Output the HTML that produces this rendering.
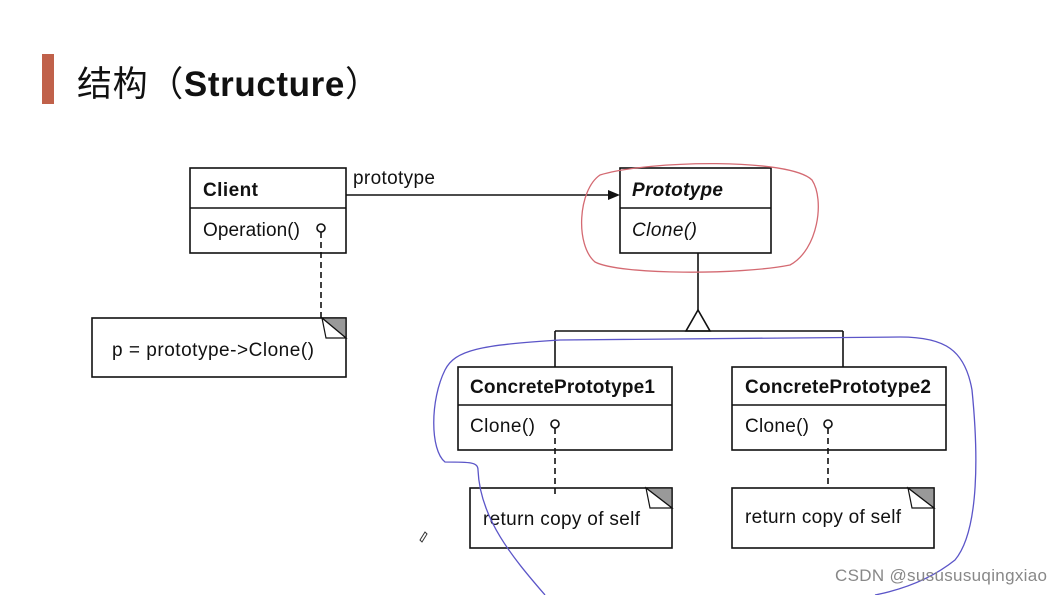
<!DOCTYPE html>
<html><head><meta charset="utf-8"><style>
html,body{margin:0;padding:0;background:#fff;width:1062px;height:595px;overflow:hidden}
svg{display:block}
</style></head><body>
<svg width="1062" height="595" xmlns="http://www.w3.org/2000/svg" font-family="Liberation Sans, Arial, sans-serif">
<rect x="42" y="54" width="12" height="50" fill="#c0614a"/>
<text x="77" y="96" font-size="35" fill="#111" font-family="Liberation Sans, Noto Sans CJK SC, sans-serif" textLength="303">结构（<tspan font-weight="bold">Structure</tspan>）</text>

<g stroke="#111" stroke-width="1.6" fill="none">
<rect x="190" y="168" width="156" height="85" fill="#fff"/>
<line x1="190" y1="208" x2="346" y2="208"/>
<rect x="620" y="168" width="151" height="85" fill="#fff"/>
<line x1="620" y1="208" x2="771" y2="208"/>
<line x1="346" y1="195" x2="608" y2="195"/>
<line x1="698" y1="253" x2="698" y2="310"/>
<polygon points="698,310 686,331 710,331" fill="#fff"/>
<line x1="555" y1="331" x2="843" y2="331"/>
<line x1="555" y1="331" x2="555" y2="367"/>
<line x1="843" y1="331" x2="843" y2="367"/>
<rect x="458" y="367" width="214" height="83" fill="#fff"/>
<line x1="458" y1="405" x2="672" y2="405"/>
<rect x="732" y="367" width="214" height="83" fill="#fff"/>
<line x1="732" y1="405" x2="946" y2="405"/>
<rect x="92" y="318" width="254" height="59" fill="#fff"/>
<rect x="470" y="488" width="202" height="60" fill="#fff"/>
<rect x="732" y="488" width="202" height="60" fill="#fff"/>
<g stroke-dasharray="6,4">
<line x1="321" y1="232" x2="321" y2="318"/>
<line x1="555" y1="428" x2="555" y2="495"/>
<line x1="828" y1="428" x2="828" y2="488"/>
</g>
<circle cx="321" cy="228" r="4" fill="#fff"/>
<circle cx="555" cy="424" r="4" fill="#fff"/>
<circle cx="828" cy="424" r="4" fill="#fff"/>
</g>
<polygon points="608,190 620,195 608,200" fill="#111"/>
<g fill="#999" stroke="#111" stroke-width="1.2">
<polygon points="322,318 346,318 346,338"/>
<polygon points="646,488 672,488 672,508"/>
<polygon points="908,488 934,488 934,508"/>
</g>
<g fill="#fff" stroke="#111" stroke-width="1.2">
<polygon points="322,318 346,338 326,338"/>
<polygon points="646,488 672,508 650,508"/>
<polygon points="908,488 934,508 912,508"/>
</g>

<g font-size="19" fill="#111">
<text x="203" y="196" font-weight="bold" textLength="55">Client</text>
<text x="203" y="236" textLength="97">Operation()</text>
<text x="353" y="184" textLength="82">prototype</text>
<text x="632" y="196" font-weight="bold" font-style="italic" textLength="91">Prototype</text>
<text x="632" y="236" font-style="italic" textLength="65">Clone()</text>
<text x="112" y="356" textLength="202">p = prototype-&gt;Clone()</text>
<text x="470" y="393" font-weight="bold" textLength="185">ConcretePrototype1</text>
<text x="470" y="432" textLength="65">Clone()</text>
<text x="745" y="393" font-weight="bold" textLength="186">ConcretePrototype2</text>
<text x="745" y="432" textLength="64">Clone()</text>
<text x="483" y="525" textLength="157">return copy of self</text>
<text x="745" y="523" textLength="156">return copy of self</text>
</g>

<path d="M600,175 C650,160 790,158 812,180 C825,200 818,250 790,265 C740,275 620,275 595,262 C575,245 578,190 600,175 Z" fill="none" stroke="#d46a72" stroke-width="1.3"/>
<path d="M545,595 C515,560 480,520 478,470 C478,462 470,462 445,462 C430,450 430,400 445,370 C455,350 480,345 560,340 L900,337 C945,337 965,350 972,390 C978,450 980,530 955,560 C930,580 900,590 875,595" fill="none" stroke="#5b55c8" stroke-width="1.3"/>
<path d="M420,540 l5,-8 l2,2 l-5,8 z" fill="none" stroke="#333" stroke-width="1"/>
<text x="835" y="581" font-size="17" fill="#888" font-family="Liberation Sans, sans-serif" textLength="212">CSDN @susususuqingxiao</text>
</svg>
</body></html>
